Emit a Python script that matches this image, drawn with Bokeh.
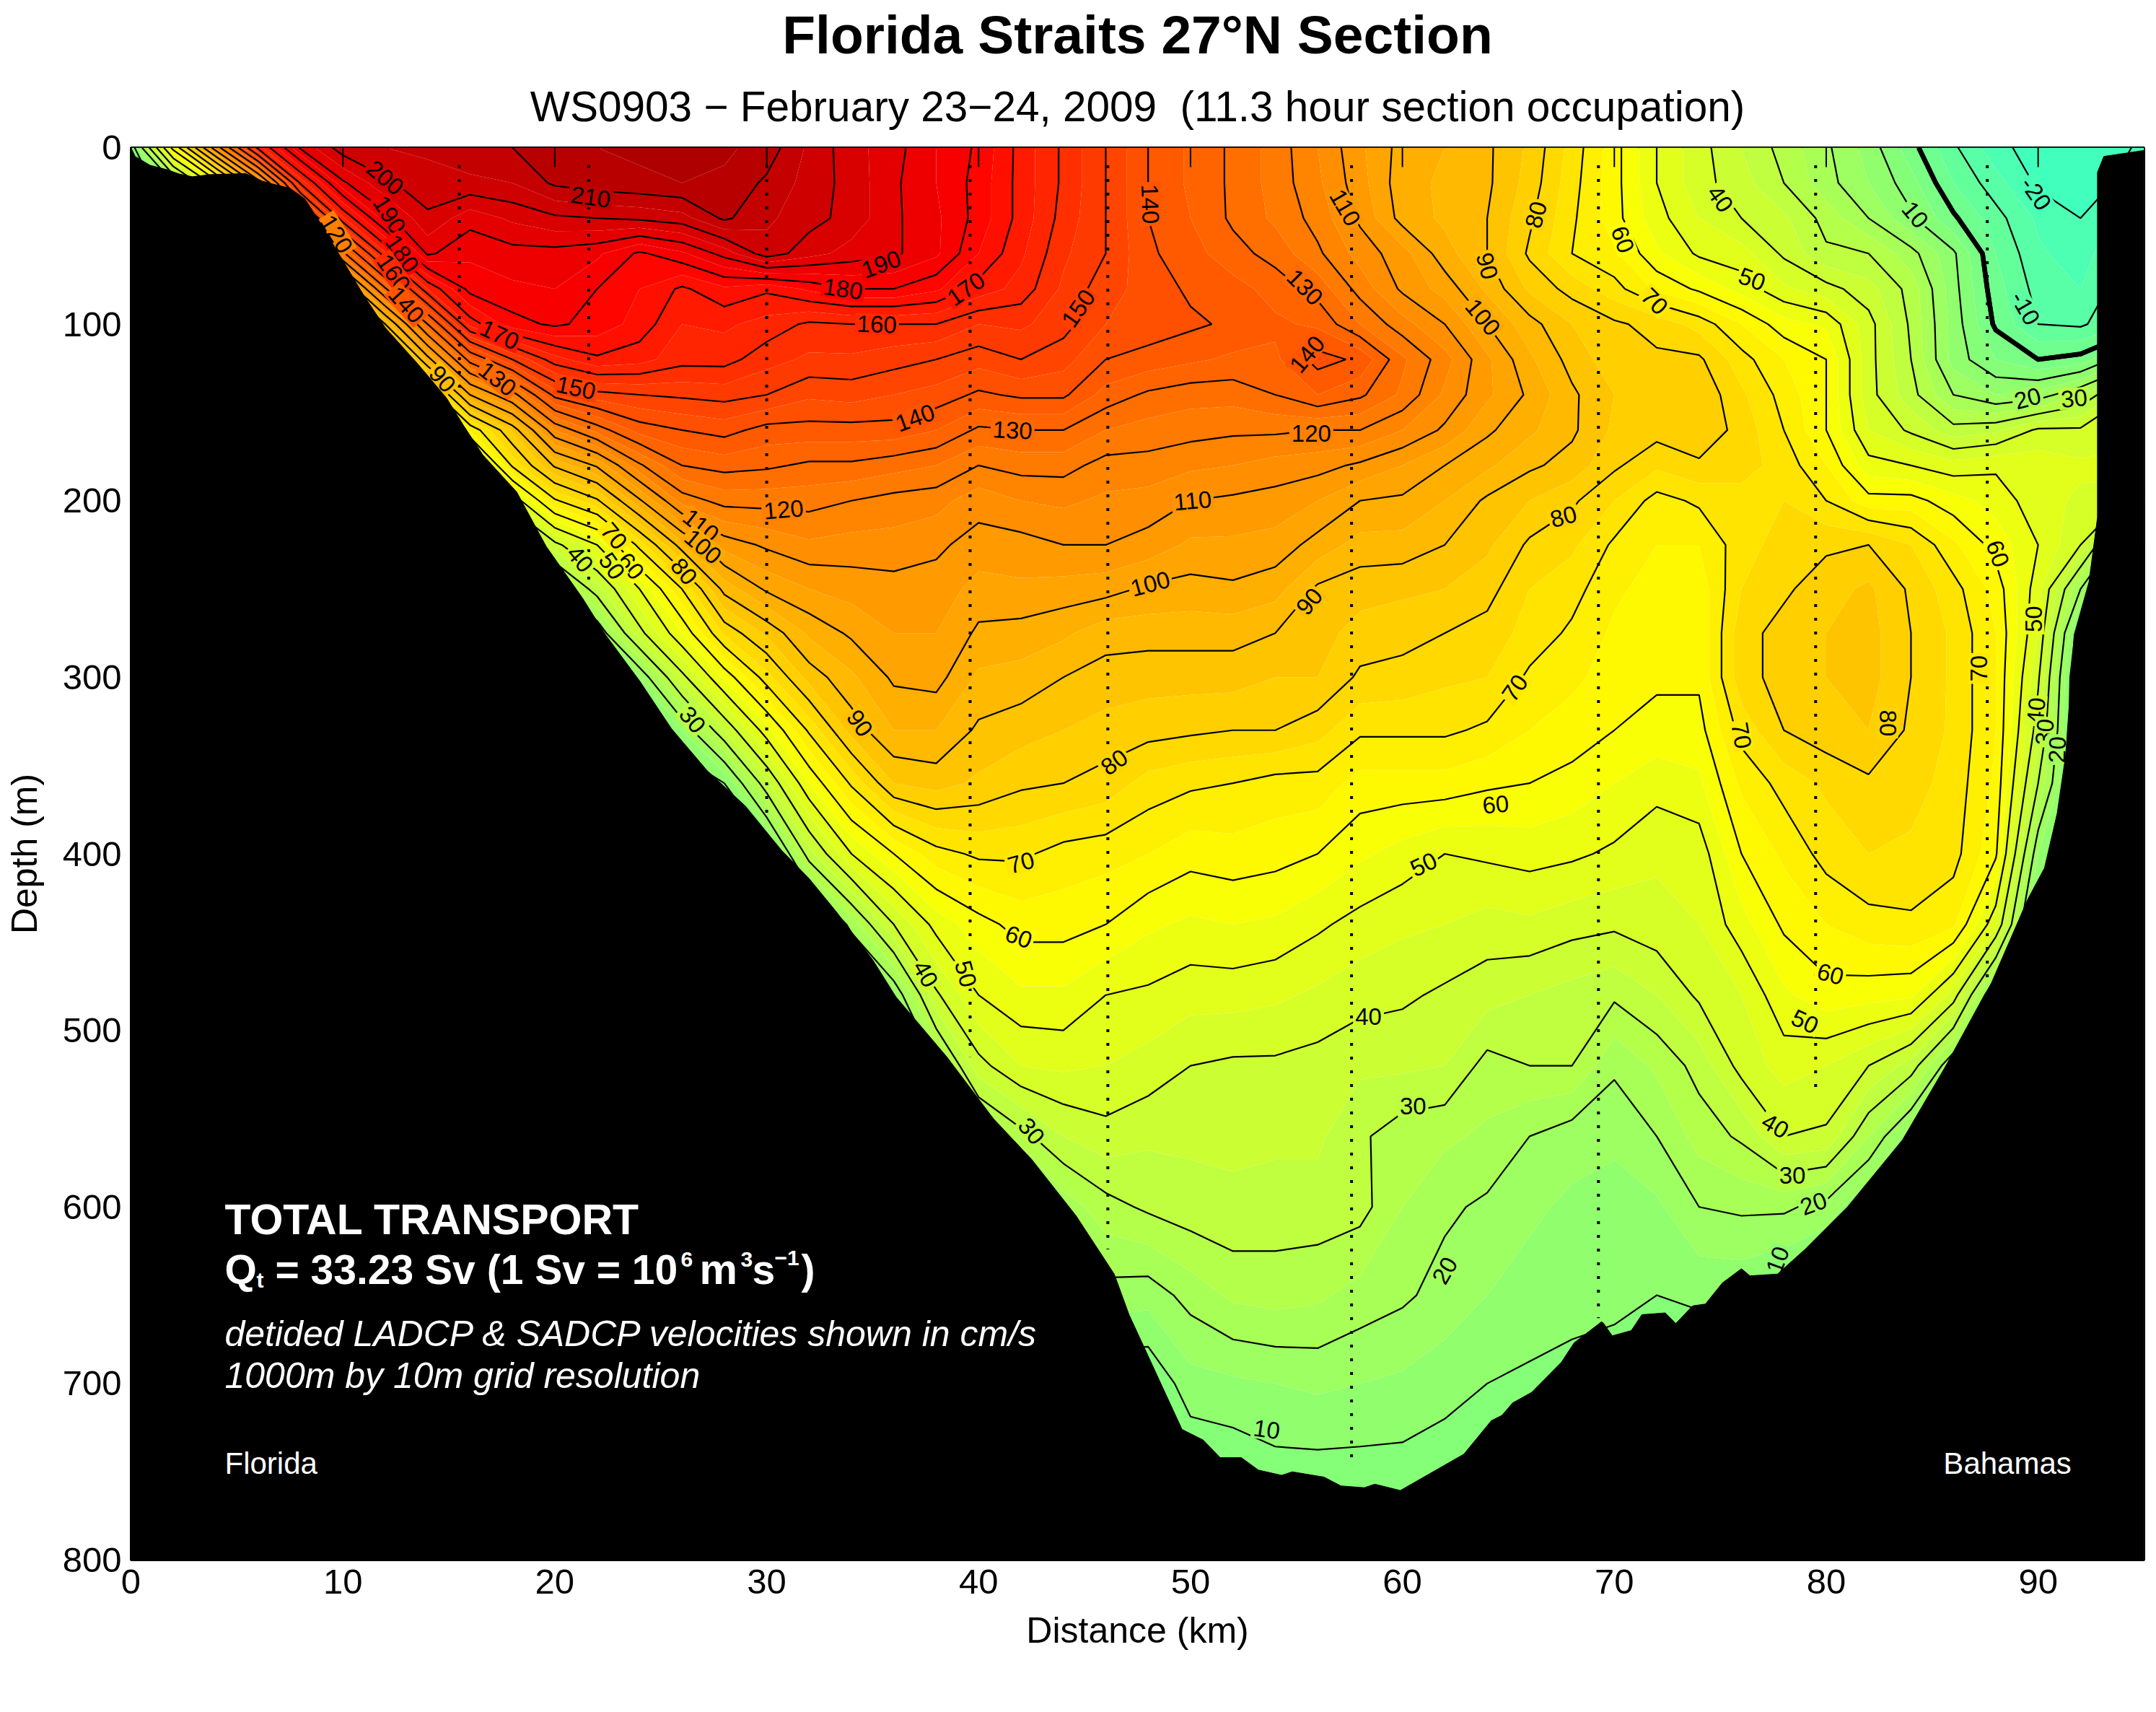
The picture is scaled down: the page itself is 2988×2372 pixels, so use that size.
import numpy as np
from bokeh.core.properties import value
from bokeh.embed import file_html
from bokeh.models import ColumnDataSource, FixedTicker, Label, Range1d, Title
from bokeh.plotting import figure
from bokeh.resources import INLINE

depths = [0, 20, 40, 60, 80, 100, 120, 140, 160, 180, 200, 225, 250, 275, 300, 330, 360, 400,
          440, 480, 520, 560, 600, 650, 700, 750, 800]
distances = [0, 2, 4, 6, 8, 10, 12, 14, 16, 18, 20, 22, 24, 26, 28, 30, 32, 34, 36, 38, 40, 42, 44, 46, 48,
             50, 52, 54, 56, 58, 60, 62, 64, 66, 68, 70, 72, 74, 76, 78, 80, 82, 84, 86, 88, 90, 92, 95]

# velocity (cm/s) read down each distance column; the last value carries on under the sea floor
v00 = [5, 0]
v02 = [63, 20, 5, 0]
v04 = [115, 55, 15, 5, 0]
v06 = [162, 105, 55, 20, 5, 0]
v08 = [191, 161, 122, 82, 50, 25, 10, 5]
v10 = [203, 189, 164, 128, 87, 60, 30, 15, 5]
v12 = [205, 199, 188, 164, 129, 90, 55, 30, 15, 5]
v14 = [206, 203, 199, 191, 165, 130, 97, 60, 35, 20, 10, 5]
v16 = [208, 204, 192, 186, 182, 167, 133, 100, 65, 40, 25, 12, 5]
v18 = [210, 205, 196, 188, 184, 178, 150, 117, 86, 71, 45, 20, 10, 5]
v20 = [213, 211, 199, 188, 185, 181, 163, 142, 115, 91, 69, 38, 18, 8, 4]
v22 = [215, 213, 200, 186, 180, 178, 169, 148, 127, 101, 79, 50, 33, 15, 5]
v24 = [216, 214, 201, 179, 175, 173, 167, 150, 137, 119, 99, 72, 50, 38, 15, 5]
v26 = [217, 215, 203, 184, 169, 165, 162, 151, 140, 130, 117, 93, 70, 55, 38, 15, 5]
v28 = [216, 214, 211, 192, 174, 166, 162, 152, 142, 132, 122, 107, 92, 76, 56, 35, 10, 3]
v30 = [213, 209, 206, 203, 171, 163, 157, 150, 138, 131, 122, 111, 101, 86, 73, 53, 34, 5, 2]
v32 = [204, 203, 202, 197, 176, 159, 154, 146, 138, 129, 122, 114, 105, 96, 87, 71, 55, 33, 5]
v34 = [197, 198, 198, 193, 180, 160, 154, 147, 138, 129, 120, 113, 107, 101, 94, 87, 71, 50, 22, 5]
v36 = [192, 191, 191, 191, 180, 160, 152, 145, 138, 127, 118, 113, 108, 105, 101, 95, 85, 60, 40, 15, 5]
v38 = [185, 185, 186, 186, 176, 160, 150, 143, 135, 125, 117, 111, 108, 105, 102, 95, 87, 68, 52, 39, 20, 5]
v40 = [179, 178, 178, 175, 168, 155, 147, 139, 129, 120, 112, 108, 103, 99, 94, 89, 84, 71, 58, 50, 38, 20, 5]
v42 = [168, 168, 168, 166, 163, 156, 150, 141, 130, 122, 115, 108, 104, 98, 93, 87, 81, 71, 62, 54, 45, 28, 8]
v44 = [159, 159, 158, 156, 154, 152, 147, 141, 130, 122, 116, 110, 103, 96, 90, 85, 80, 68, 62, 54, 46, 35, 22, 5]
v46 = [150, 150, 150, 150, 147, 145, 140, 133, 125, 118, 114, 110, 102, 92, 88, 83, 78, 67, 60, 50, 45, 38, 28, 18, 5]
v48 = [140, 140, 140, 141, 143, 143, 138, 129, 123, 118, 113, 108, 99, 92, 87, 82, 73, 65, 56, 49, 43, 36, 31, 17, 5]
v50 = [134, 134, 135, 137, 139, 141, 136, 127, 122, 116, 110, 104, 98, 92, 87, 81, 71, 62, 54, 47, 40, 36, 33, 22, 13, 5]
v52 = [129, 129, 129, 132, 137, 139, 134, 127, 121, 115, 109, 104, 99, 92, 87, 80, 70, 63, 55, 47, 39, 36, 34, 26, 14, 6]
v54 = [123, 123, 124, 128, 133, 136, 134, 130, 121, 113, 108, 103, 97, 90, 85, 80, 68, 62, 54, 46, 39, 36, 33, 27, 15, 8]
v56 = [115, 116, 118, 121, 128, 134, 142, 135, 120, 112, 105, 98, 89, 87, 85, 77, 68, 60, 51, 44, 38, 36, 33, 26, 16, 8]
v58 = [106, 107, 109, 113, 118, 125, 139, 131, 120, 109, 100, 93, 87, 83, 79, 71, 63, 56, 48, 42, 36, 31, 32, 23, 15, 8]
v60 = [98, 97, 98, 107, 109, 117, 126, 124, 115, 105, 99, 93, 86, 82, 78, 71, 63, 53, 46, 41, 36, 27, 25, 21, 14, 8]
v62 = [95, 94, 94, 97, 103, 110, 117, 114, 109, 100, 95, 90, 85, 80, 76, 71, 63, 50, 45, 39, 35, 26, 21, 18, 12, 7]
v64 = [91, 91, 90, 90, 94, 100, 106, 106, 101, 96, 89, 86, 82, 78, 75, 69, 61, 51, 43, 37, 28, 24, 19, 15, 10, 5]
v66 = [84, 83, 81, 79, 84, 92, 96, 99, 96, 91, 85, 79, 75, 73, 69, 65, 60, 52, 44, 35, 30, 20, 16, 13, 9, 5]
v68 = [73, 72, 71, 70, 78, 85, 88, 91, 91, 88, 81, 76, 72, 69, 66, 63, 58, 51, 42, 33, 30, 17, 14, 12, 8, 5]
v70 = [62, 62, 62, 66, 72, 81, 82, 85, 84, 81, 75, 69, 66, 64, 63, 60, 55, 49, 41, 31, 21, 16, 13, 11, 8, 5]
v72 = [50, 50, 52, 56, 64, 78, 81, 83, 82, 76, 68, 65, 63, 62, 61, 58, 52, 46, 43, 35, 26, 20, 14, 10, 5]
v74 = [42, 42, 45, 49, 59, 73, 81, 84, 84, 79, 71, 65, 62, 61, 61, 58, 54, 47, 45, 41, 32, 27, 20, 11, 5]
v76 = [35, 37, 40, 47, 53, 65, 72, 76, 78, 77, 73, 73, 75, 78, 78, 72, 66, 60, 53, 45, 42, 31, 21, 11, 5]
v78 = [28, 30, 36, 39, 46, 57, 65, 68, 70, 73, 75, 77, 79, 82, 82, 80, 72, 66, 61, 54, 47, 40, 21, 8, 4]
v80 = [21, 22, 28, 31, 42, 54, 60, 60, 60, 65, 70, 79, 83, 85, 85, 83, 76, 72, 65, 58, 45, 39, 18, 5]
v82 = [13, 15, 20, 30, 37, 42, 42, 42, 45, 52, 62, 80, 86, 87, 87, 85, 79, 75, 68, 57, 40, 25, 10, 5]
v84 = [2, 7, 11, 22, 28, 29, 30, 32, 39, 50, 62, 75, 79, 80, 80, 79, 77, 74, 69, 56, 33, 12, 5]
v86 = [-9, -5, 1, 11, 12, 13, 13, 20, 32, 47, 57, 66, 72, 74, 74, 74, 73, 72, 66, 43, 15, 5]
v88 = [-18, -13, -8, -5, -3, -1, 5, 15, 34, 49, 53, 58, 63, 65, 65, 65, 64, 61, 46, 12, 3]
v90 = [-23, -21, -16, -14, -12, -10, 0, 17, 41, 48, 47, 50, 47, 45, 41, 37, 30, 15, 3]
v92 = [-24, -23, -20, -18, -15, -11, 2, 25, 41, 46, 44, 40, 20, 5, 0]
v95 = [-19, -17, -9, -4, -3, -2, 19, 44, 41, 50, 38, 0]

velocity_columns = [v00, v02, v04, v06, v08, v10, v12, v14, v16, v18, v20, v22, v24, v26, v28, v30, v32, v34,
                    v36, v38, v40, v42, v44, v46, v48, v50, v52, v54, v56, v58, v60, v62, v64, v66, v68, v70,
                    v72, v74, v76, v78, v80, v82, v84, v86, v88, v90, v92, v95]

# sea floor read along the section
floor_x = [0, 0.2, 0.9, 1.7, 2.3, 2.9, 3.7, 5.4, 6.2, 6.8, 7.5, 8.2, 8.8, 9.7, 11, 12, 13.5, 14.9, 15.7, 16.6, 18.2,
           19.6, 21.3, 22.4, 24, 25.5, 27.2, 29, 30.7, 32, 33.3, 35, 36.1, 38.5, 40.7, 42.5, 44.6, 46.4, 47.1, 49.6,
           50.6, 51.4, 52.4, 53.2, 54.3, 54.8, 56.3, 57.1, 58.2, 58.7, 59.9, 62.9, 64.2, 64.7, 65.2, 66.1, 67.5, 68.1,
           69.4, 69.5, 69.9, 70.8, 71.3, 72.4, 72.9, 73.7, 74.3, 75.1, 76, 76.4, 77.7, 79, 81, 83.6, 85.6, 87.8, 89.5,
           90.3, 90.9, 91.3, 91.7, 92.4, 92.8, 92.8, 93.1, 95, 95, 0]
floor_d = [0, 5, 10, 12.5, 15, 16.5, 15.3, 14.7, 19, 21, 23, 29, 40, 58, 84, 102, 122, 142, 157.5, 174, 195,
           226, 255, 276, 302, 329, 353, 373, 398, 414, 433, 460, 481, 515, 550, 573, 605, 638, 661, 726,
           732, 742, 742, 749, 752, 750, 753, 758, 759, 757, 760.6, 740, 721, 718, 711, 705, 688, 677,
           665, 666, 673, 670, 661, 660, 666, 656, 655, 643, 635, 639, 638, 624, 600, 562, 521, 473, 426,
           408, 377, 344, 276, 246, 209.5, 14, 5, 1.6, 800, 800]

station_x = [15.5, 21.6, 30.0, 39.6, 46.1, 57.6, 69.25, 79.5, 87.6]
station_bottom = [140, 248, 378, 515, 624, 746, 663, 535, 473]

label_level = [200, 190, 180, 160, 140, 120, 170, 130, 150, 90, 210, 110, 100, 70, 60, 50, 40, 80, 120, 190, 180, 160,
               170, 140, 130, 150, 140, 110, 100, 120, 130, 140, 110, 90, 90, 100, 80, 60, 70, 40, 50, 10, -20, -10,
               20, 30, 80, 60, 50, 90, 30, 80, 70, 60, 40, 50, 30, 70, 60, 50, 40, 30, 70, 70, 80, 60, 50, 40, 40, 30,
               20, 20, 10, 20, 30, 10]
label_x = [12.0, 12.2, 12.8, 12.4, 13.0, 9.7, 17.4, 17.3, 21.0, 14.7, 21.7, 26.9, 27.0, 22.8, 23.6, 22.7, 21.2, 26.1,
           30.8, 35.4, 33.6, 35.2, 39.4, 37.0, 41.6, 44.7, 48.1, 50.1, 48.1, 55.7, 55.4, 55.5, 57.3, 55.6, 64.0, 63.8,
           66.3, 70.4, 71.9, 75.0, 76.5, 84.2, 89.9, 89.4, 89.5, 91.7, 67.6, 88.1, 89.8, 34.4, 26.5, 46.4, 42.0, 41.9,
           37.5, 39.4, 42.5, 65.3, 64.4, 61.0, 58.4, 60.5, 87.2, 76.0, 82.9, 80.2, 79.0, 77.6, 89.9, 90.3, 90.9, 62.0,
           53.6, 79.4, 78.4, 77.7]
label_d = [17, 38, 60, 71, 89, 49, 106, 131, 136, 131, 28, 214, 226, 220, 237, 237, 233, 240,
           205, 66, 80, 100, 80, 153, 160, 91, 32, 200, 247, 162, 79, 117, 34, 257, 67, 96,
           38, 52, 87, 29, 74.5, 38, 26, 91, 142, 142, 209, 230, 267, 326, 324, 348, 405, 447,
           468, 468, 557, 306, 372, 406, 492, 543, 295, 333, 326, 468, 495, 554, 319, 331, 341, 636,
           726, 598, 582, 630]
label_angle = [-40, -58, -55, -55, -48, -58, -25, -38, -12, -48, -8, -38, -40, -50, -50, -55, -50, -50,
               5, 20, -8, -2, 35, 20, -3, 55, -88, 5, 15, 0, -45, 50, -60, 50, -75, -50,
               75, -70, -45, -55, -20, -50, -55, -60, 15, 5, 15, -70, 90, -55, -50, 35, 15, -20,
               -60, -75, -50, 55, 5, 25, 0, 0, 90, -80, -90, -15, -25, -30, 85, 85, 88, 60,
               -8, 20, 0, 70]

fill_levels = list(range(-30, 235, 5))
line_levels = [-20, -10, 10, 20, 30, 40, 50, 60, 70, 80, 90, 100, 110, 120, 130, 140, 150, 160, 170, 180, 190, 200, 210]
ticks_x = [0, 10, 20, 30, 40, 50, 60, 70, 80, 90]
ticks_y = [0, 100, 200, 300, 400, 500, 600, 700, 800]


def band_color(v):
    t = 0.625 + (v - 60) / (111 if v < 60 else 120) * 0.25
    r = np.clip(min(4 * t - 1.5, -4 * t + 4.5), 0, 1)
    g = np.clip(min(4 * t - 0.5, -4 * t + 3.5), 0, 1)
    b = np.clip(min(4 * t + 0.5, -4 * t + 2.5), 0, 1)
    return "#%02x%02x%02x" % (int(r * 255), int(g * 255), int(b * 255))


n_rows = len(depths)
z = np.array([c + [c[-1]] * (n_rows - len(c)) for c in velocity_columns], dtype=float).T
x_grid = np.array(distances, dtype=float)
y_grid = np.array(depths, dtype=float)

FONT = "Liberation Sans"
p = figure(width=2980, height=2364, output_backend="svg", toolbar_location=None,
           x_range=Range1d(0, 95), y_range=Range1d(800, 0),
           min_border_left=181, min_border_right=9, min_border_top=204, min_border_bottom=203,
           background_fill_color="white", border_fill_color="white",
           outline_line_color="black", outline_line_width=3)
p.grid.visible = False

p.title = Title(text="Florida Straits 27°N Section", align="center", vertical_align="top", text_font=FONT,
                text_font_size="75px", text_font_style="bold", text_color="black", standoff=0)
p.add_layout(Title(text="WS0903 − February 23−24, 2009 \u00a0(11.3 hour section occupation)", align="center",
                   vertical_align="top", text_font=FONT, text_font_size="58.5px", text_font_style="normal",
                   text_color="black", standoff=46), "above")

p.contour(x_grid, y_grid, z, fill_levels,
          fill_color=[band_color((a + b) / 2) for a, b in zip(fill_levels[:-1], fill_levels[1:])], line_color=None)
p.contour(x_grid, y_grid, z, line_levels, line_color="black", line_width=2.2)
p.contour(x_grid, y_grid, z, [-0.001, 0.001], line_color="black", line_width=6.5)

p.segment(x0=station_x, y0=[10] * len(station_x), x1=station_x, y1=station_bottom,
          line_color="black", line_width=4, line_dash="4 15", line_cap="butt")
p.segment(x0=ticks_x, y0=[0] * len(ticks_x), x1=ticks_x, y1=[11] * len(ticks_x), line_color="black", line_width=2)

label_src = ColumnDataSource(dict(x=label_x, y=label_d, text=[str(v) for v in label_level], angle=label_angle,
                                  bg=[band_color(v) for v in label_level]))
p.text(x="x", y="y", text="text", angle="angle", angle_units="deg", source=label_src, text_align="center",
       text_baseline="middle", text_color="black", text_font=value(FONT), text_font_size="33px",
       background_fill_color="bg", padding=3)

p.patch(floor_x, floor_d, fill_color="black", line_color="black", line_width=1)


def km(px):
    return (px - 181) / 29.37


def metre(py):
    return (py - 204) / 2.447


def note(text, px, py, size, style="normal"):
    p.add_layout(Label(x=km(px), y=metre(py), text=text, text_color="white", text_font=FONT,
                       text_font_size=f"{size}px", text_font_style=style, text_baseline="middle"))


note("TOTAL TRANSPORT", 311, 1690, 59, "bold")
note("Q", 311, 1759, 57, "bold")
note("t", 355, 1773, 30, "bold")
note("= 33.23 Sv (1 Sv = 10", 381, 1759, 57, "bold")
note("6", 943, 1745, 30, "bold")
note("m", 969, 1759, 59, "bold")
note("3", 1026, 1745, 30, "bold")
note("s", 1042, 1759, 57, "bold")
note("−1", 1073, 1743, 30, "bold")
note(")", 1110, 1759, 57, "bold")
note("detided LADCP & SADCP velocities shown in cm/s", 311, 1848, 50, "italic")
note("1000m by 10m grid resolution", 311, 1906, 50, "italic")
note("Florida", 311, 2028, 42)
note("Bahamas", 2693, 2028, 42)

p.xaxis.ticker = FixedTicker(ticks=ticks_x)
p.yaxis.ticker = FixedTicker(ticks=ticks_y)
p.xaxis.axis_label = "Distance (km)"
p.yaxis.axis_label = "Depth (m)"
for ax in (p.xaxis[0], p.yaxis[0]):
    ax.axis_label_text_font = FONT
    ax.axis_label_text_font_size = "50px"
    ax.axis_label_text_font_style = "normal"
    ax.axis_label_text_color = "black"
    ax.major_label_text_font = FONT
    ax.major_label_text_font_size = "49px"
    ax.major_label_text_color = "black"
    ax.major_tick_in = 0
    ax.major_tick_out = 0
    ax.minor_tick_in = 0
    ax.minor_tick_out = 0
    ax.axis_line_color = "black"
    ax.axis_line_width = 2
    ax.major_label_standoff = 13
p.xaxis.axis_label_standoff = 20
p.yaxis.axis_label_standoff = 22

open("out.html", "w").write(file_html(p, INLINE))
